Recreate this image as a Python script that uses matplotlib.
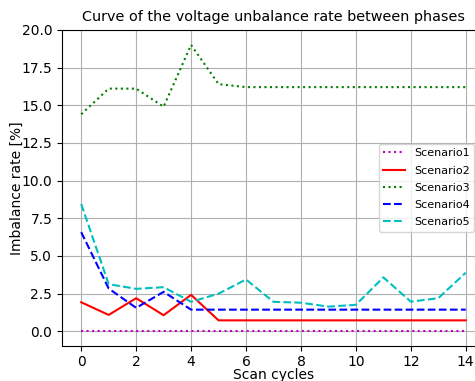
import matplotlib
matplotlib.use("Agg")
import matplotlib.pyplot as plt
import numpy as np

cycles = list(range(15))
scenario1 = [0.0] * 15
scenario2 = [1.93, 1.09, 2.2, 1.07, 2.42, 0.73, 0.73, 0.73, 0.73, 0.73, 0.73, 0.73, 0.73, 0.73, 0.73]
scenario3 = [14.4, 16.1, 16.1, 14.9, 19.0, 16.4, 16.2, 16.2, 16.2, 16.2, 16.2, 16.2, 16.2, 16.2, 16.2]
scenario4 = [6.58, 2.84, 1.56, 2.62, 1.44, 1.44, 1.44, 1.44, 1.44, 1.44, 1.44, 1.44, 1.44, 1.44, 1.44]
scenario5 = [8.45, 3.13, 2.82, 2.93, 1.96, 2.5, 3.44, 1.96, 1.9, 1.64, 1.76, 3.58, 1.97, 2.2, 3.89]

fig = plt.figure(figsize=(4.75, 3.81), dpi=100)
ax = fig.add_axes([0.1305, 0.0927, 0.8905, 0.829])
ax.plot(cycles, scenario1, 'm:', label='Scenario1')
ax.plot(cycles, scenario2, 'r-', label='Scenario2')
ax.plot(cycles, scenario3, 'g:', label='Scenario3')
ax.plot(cycles, scenario4, 'b--', label='Scenario4')
ax.plot(cycles, scenario5, 'c--', label='Scenario5')
ax.set_ylim(-0.95, 20.0)
ax.set_title('Curve of the voltage unbalance rate between phases', fontsize=10.4)
ax.set_xlabel('Scan cycles', labelpad=-1)
ax.set_ylabel('Imbalance rate [%]', labelpad=-2)
ax.grid(True)
ax.legend(loc='center right', fontsize=8, labelspacing=0.65,
          bbox_to_anchor=(0.988, 0.5))
fig.savefig('out.png', dpi=100)
